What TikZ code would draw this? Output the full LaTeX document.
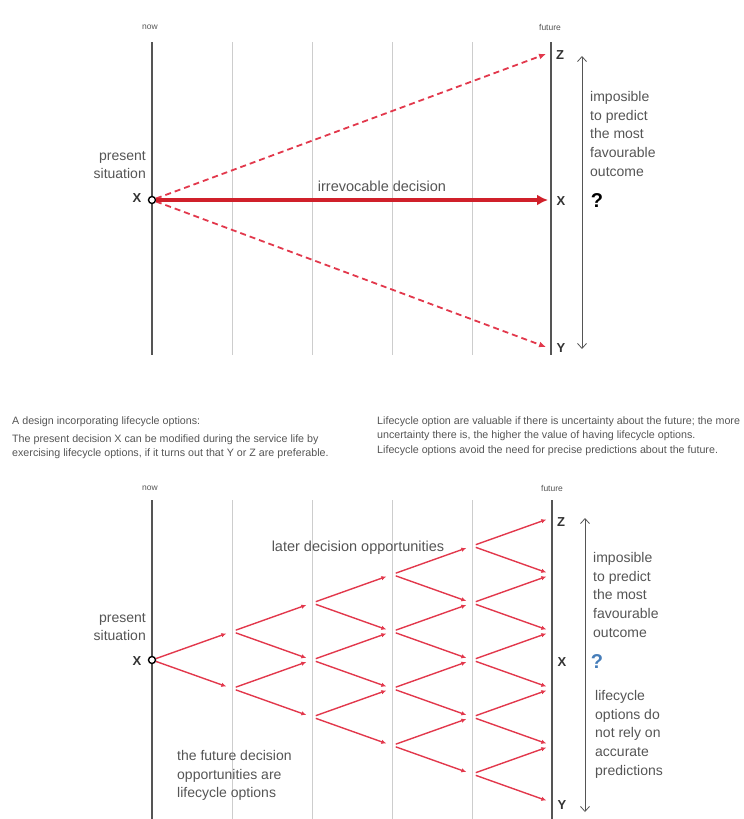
\documentclass[tikz,border=0pt]{standalone}
\usepackage{fontspec}
\setmainfont{Liberation Sans}
\usetikzlibrary{arrows.meta}
\definecolor{lcred}{RGB}{208,32,42}
\definecolor{lcpink}{RGB}{226,56,76}
\definecolor{lcgray}{RGB}{85,85,85}
\definecolor{lclight}{RGB}{205,205,205}
\definecolor{lcblue}{RGB}{70,125,185}

\begin{document}
\begin{tikzpicture}[
    x=1pt, y=-1pt,
    timeline/.style={draw=lcgray, line width=1.1pt},
    gridline/.style={draw=lclight, line width=0.8pt},
    origin/.style={circle, draw=black, fill=white, line width=1.4pt,
                   minimum size=7pt, inner sep=0pt},
    tick/.style={font=\fontsize{8.5}{10}\selectfont, text=lcgray},
    outcome/.style={font=\fontsize{13}{14}\selectfont\bfseries, text=black!80},
    note/.style={font=\fontsize{14}{18.7}\selectfont, text=lcgray,
                 inner sep=0pt, align=left, anchor=north west},
    caption/.style={font=\fontsize{10.7}{13.5}\selectfont, text=lcgray,
                    inner sep=0pt, align=left, anchor=north west},
    decision/.style={-{Latex[length=11pt,width=11pt]}, line width=4.5pt, lcred},
    scenario/.style={-{Latex[length=7pt,width=6pt]}, line width=1.8pt, lcpink,
                     dash pattern=on 6pt off 4pt},
    branch/.style={-{Latex[length=5pt,width=4.5pt]}, line width=1.4pt, lcpink,
                   shorten <=4pt, shorten >=6pt},
    spanarrow/.style={{Straight Barb[length=5pt,width=9pt]}-{Straight Barb[length=5pt,width=9pt]},
                  draw=lcgray, line width=0.8pt}
  ]
    \useasboundingbox (0,0) rectangle (744,819);

    % Top: time axes
    \foreach \k in {1,...,4}
      \draw[gridline] ({152+80*\k},42) -- ({152+80*\k},355);
    \draw[timeline] (152,42) -- (152,355);
    \draw[timeline] (551,42) -- (551,355);
    \node[tick] at (150,27) {now};
    \node[tick] at (550,27) {future};

    % Top: irrevocable decision
    \node[origin] (ot) at (152,200) {};
    \coordinate (zt) at (546,54);
    \coordinate (xt) at (548,200);
    \coordinate (yt) at (546,347);
    \draw[scenario] (ot) -- (zt);
    \draw[scenario] (ot) -- (yt);
    \draw[decision] (ot) -- (xt);
    \node[font=\fontsize{14.5}{16}\selectfont, text=lcgray] at (382,186) {irrevocable decision};
    \node[note, anchor=north east, align=right] at (146,151) {present\\situation};
    \node[outcome] at (137,198) {X};
    \node[outcome] at (560,55) {Z};
    \node[outcome] at (561,201) {X};
    \node[outcome] at (561,348) {Y};

    % Top: unpredictable span
    \coordinate (rt1) at (582,56);
    \coordinate (rt2) at (582,349);
    \draw[spanarrow] (rt1) -- (rt2);
    \node[note] at (590,91) {imposible\\to predict\\the most\\favourable\\outcome};
    \node[font=\fontsize{20}{22}\selectfont\bfseries] at (597,201) {?};

    % Captions
    \node[caption] at (12,417) {A design incorporating lifecycle options:};
    \node[caption] at (12,435) {The present decision X can be modified during the service life by\\exercising lifecycle options, if it turns out that Y or Z are preferable.};
    \node[caption] at (377,417) {Lifecycle option are valuable if there is uncertainty about the future; the more\\uncertainty there is, the higher the value of having lifecycle options.};
    \node[caption] at (377,446) {Lifecycle options avoid the need for precise predictions about the future.};

    % Bottom: time axes
    \foreach \k in {1,...,4}
      \draw[gridline] ({152+80*\k},500) -- ({152+80*\k},819);
    \draw[timeline] (152,500) -- (152,819);
    \draw[timeline] (552,500) -- (552,819);
    \node[tick] at (150,488) {now};
    \node[tick] at (552,488) {future};

    % Bottom: lattice of lifecycle options
    \foreach \k in {0,...,5}
      \foreach \j in {0,...,\k}
        \coordinate (n\k-\j) at ({152+80*\k},{660-28.5*(\k-2*\j)});
    \foreach \k in {0,...,4}
      \foreach \j in {0,...,\k} {
        \pgfmathtruncatemacro\kk{\k+1}
        \pgfmathtruncatemacro\jj{\j+1}
        \draw[branch] (n\k-\j) -- (n\kk-\j);
        \draw[branch] (n\k-\j) -- (n\kk-\jj);
      }
    \node[origin] (ob) at (n0-0) {};
    \node[note, anchor=north east, align=right] at (146,613) {present\\situation};
    \node[outcome] at (137,661) {X};
    \node[outcome] at (561,522) {Z};
    \node[outcome] at (562,662) {X};
    \node[outcome] at (562,805) {Y};
    \node[font=\fontsize{14.5}{16}\selectfont, text=lcgray] at (358,548) {later decision opportunities};
    \node[note] at (177,750) {the future decision\\opportunities are\\lifecycle options};

    % Bottom: unpredictable span
    \coordinate (rb1) at (585,518);
    \coordinate (rb2) at (585,812);
    \draw[spanarrow] (rb1) -- (rb2);
    \node[note] at (593,552) {imposible\\to predict\\the most\\favourable\\outcome};
    \node[font=\fontsize{20}{22}\selectfont\bfseries, text=lcblue] at (597,662) {?};
    \node[note] at (595,690) {lifecycle\\options do\\not rely on\\accurate\\predictions};
  \end{tikzpicture}
\end{document}
